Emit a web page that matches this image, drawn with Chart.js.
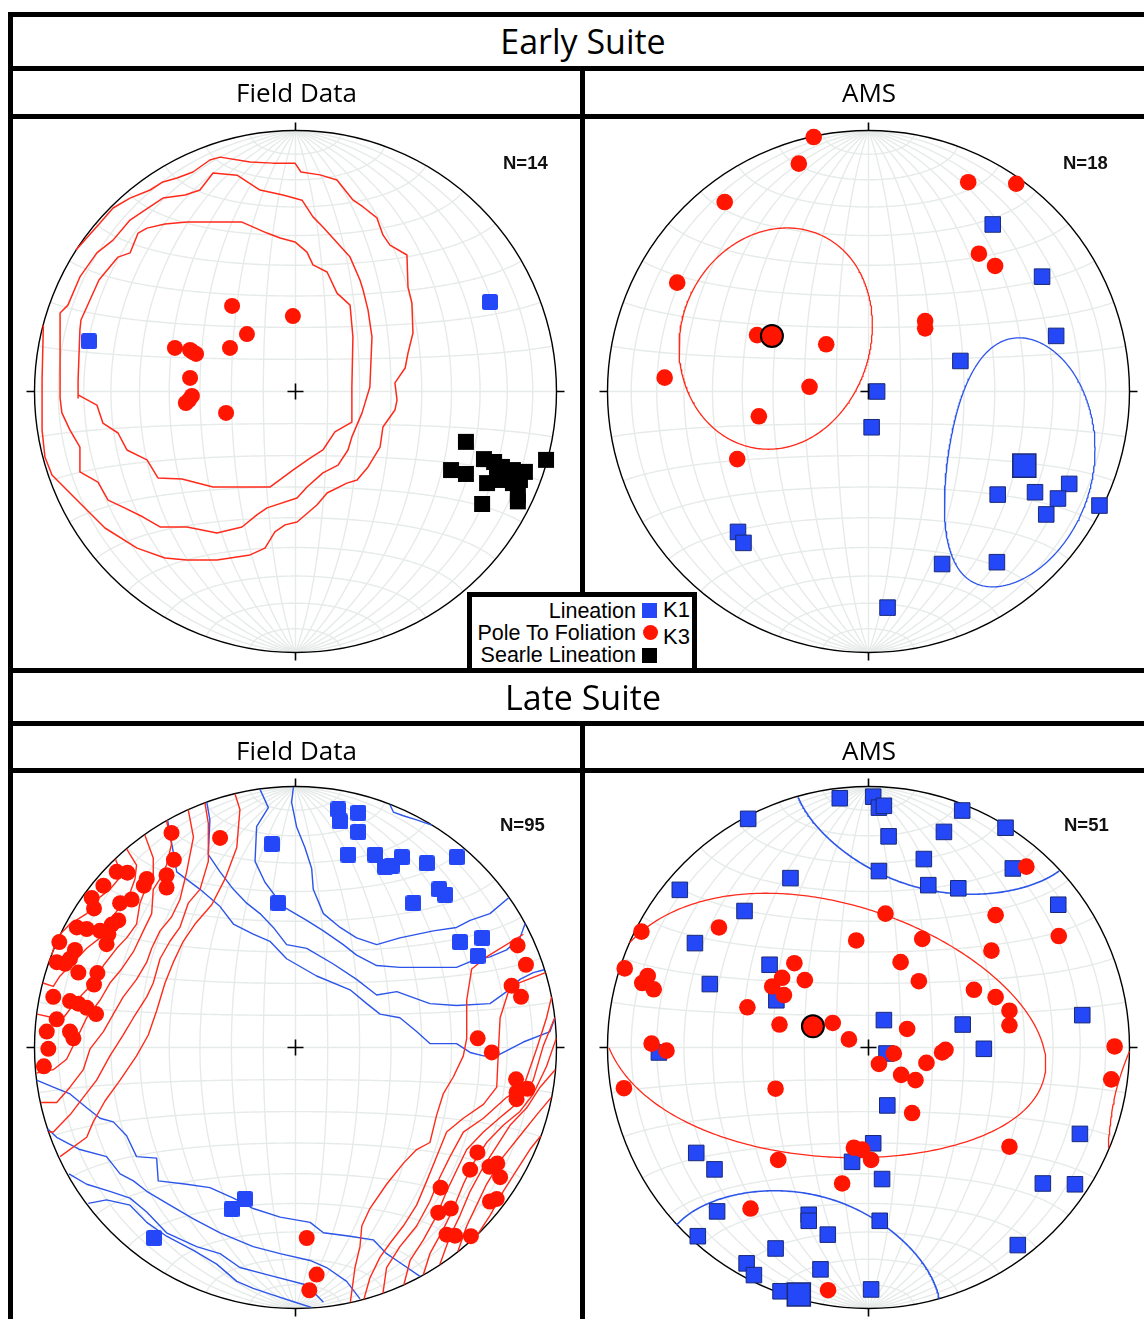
<!DOCTYPE html>
<html lang="en">
<head>
<meta charset="utf-8">
<title>Early and Late Suite fabrics</title>
<script src="https://cdn.jsdelivr.net/npm/chart.js@4.4.1/dist/chart.umd.min.js"></script>
<style>
  html, body { margin: 0; padding: 0; background: #fff; }
  body { position: relative; width: 1144px; height: 1319px; overflow: hidden; }
  .rule { position: absolute; background: #000; }
  .net { position: absolute; }
  .suite, .panel { position: absolute; text-align: center; color: #000; white-space: nowrap;
                   font-family: "Open Sans", "Noto Sans", sans-serif; font-weight: 500; }
  .suite { font-size: 34px; }
  .panel { font-size: 26px; }
  .count { position: absolute; font: bold 18.5px/1 "Liberation Sans", Arial, sans-serif; color: #111; }
  #legendBox { position: absolute; left: 467px; top: 592px; width: 220px; height: 71px;
               border: 5px solid #000; border-bottom: none; background: #fff; z-index: 5; }
  .lg { position: absolute; z-index: 6; font: 21.5px/22px "Liberation Sans", Arial, sans-serif;
        color: #000; white-space: nowrap; }
  .lgR { left: 470px; width: 166px; text-align: right; }
  .lgK { left: 663px; font-size: 22px; }
  .mk { position: absolute; z-index: 6; width: 15px; height: 15px; }
</style>
</head>
<body>
<canvas id="earlyField" class="net" width="561" height="561" style="left:15px;top:111px"></canvas>
<canvas id="earlyAms"   class="net" width="561" height="561" style="left:588px;top:111px"></canvas>
<canvas id="lateField"  class="net" width="561" height="561" style="left:15px;top:767px"></canvas>
<canvas id="lateAms"    class="net" width="561" height="561" style="left:588px;top:767px"></canvas>

<div class="rule" style="left:8px;top:12px;width:1136px;height:5px"></div>
<div class="rule" style="left:8px;top:12px;width:5px;height:1307px"></div>
<div class="rule" style="left:8px;top:66px;width:1136px;height:5px"></div>
<div class="rule" style="left:8px;top:114px;width:1136px;height:5px"></div>
<div class="rule" style="left:580px;top:66px;width:5px;height:526px"></div>
<div class="rule" style="left:8px;top:668px;width:1136px;height:5px"></div>
<div class="rule" style="left:8px;top:721px;width:1136px;height:5px"></div>
<div class="rule" style="left:8px;top:768px;width:1136px;height:5px"></div>
<div class="rule" style="left:580px;top:721px;width:5px;height:598px"></div>

<div id="t0" class="suite" style="left:13px;top:17px;width:1140px;height:49px;line-height:49px"></div>
<div id="p0" class="panel" style="left:13px;top:71px;width:567px;height:43px;line-height:43px"></div>
<div id="p1" class="panel" style="left:585px;top:71px;width:568px;height:43px;line-height:43px"></div>
<div id="t1" class="suite" style="left:13px;top:673px;width:1140px;height:48px;line-height:48px"></div>
<div id="p2" class="panel" style="left:13px;top:729px;width:567px;height:42px;line-height:42px"></div>
<div id="p3" class="panel" style="left:585px;top:729px;width:568px;height:42px;line-height:42px"></div>

<div id="n0" class="count" style="left:503px;top:153.5px"></div>
<div id="n1" class="count" style="left:1063px;top:153.5px"></div>
<div id="n2" class="count" style="left:500px;top:816px"></div>
<div id="n3" class="count" style="left:1064px;top:816px"></div>

<div id="legendBox"></div>
<div id="lg0" class="lg lgR" style="top:599.5px"></div>
<div id="lg1" class="lg lgR" style="top:621.5px"></div>
<div id="lg2" class="lg lgR" style="top:643.5px"></div>
<div id="lk0" class="lg lgK" style="top:599.4px"></div>
<div id="lk1" class="lg lgK" style="top:626.4px"></div>
<div class="mk" style="left:642px;top:603px;background:#2447f7"></div>
<div class="mk" style="left:642.5px;top:624.5px;background:#ff1500;border-radius:50%"></div>
<div class="mk" style="left:642px;top:648px;background:#000"></div>

<script>
// ---------------------------------------------------------------------------
// Headings and labels
// ---------------------------------------------------------------------------
const suiteTitles   = ['Early Suite', 'Late Suite'];
const panelTitles   = ['Field Data', 'AMS'];
const sampleCounts  = ['N=14', 'N=18', 'N=95', 'N=51'];
const legendLabels  = ['Lineation', 'Pole To Foliation', 'Searle Lineation'];
const legendAxes    = ['K1', 'K3'];

// ---------------------------------------------------------------------------
// Lower-hemisphere equal-area net positions (unit primitive, x = east, y = north)
// ---------------------------------------------------------------------------

// Early suite, field data
const earlyFieldPoles = [
  [-0.243,0.328],[-0.010,0.289],[-0.186,0.220],[-0.462,0.167],[-0.404,0.159],[-0.381,0.144],
  [-0.393,0.151],[-0.251,0.167],[-0.404,0.052],[-0.397,-0.017],[-0.420,-0.044],[-0.408,-0.033],
  [-0.266,-0.082]
];
const earlyFieldLineations = [[-0.791,0.193],[0.745,0.343]];
const earlyFieldSearle = [
  [0.653,-0.193],[0.596,-0.301],[0.653,-0.316],[0.722,-0.259],[0.761,-0.270],[0.791,-0.289],
  [0.833,-0.301],[0.879,-0.308],[0.734,-0.351],[0.784,-0.339],[0.833,-0.351],[0.860,-0.339],
  [0.852,-0.397],[0.715,-0.431],[0.960,-0.262],[0.772,-0.312],[0.803,-0.331],[0.852,-0.421],
  [0.820,-0.326]
];
const earlyFieldPoleContours = [
  [[-0.833,-0.025],[-0.833,0.044],[-0.826,0.236],[-0.822,0.274],[-0.753,0.427],[-0.680,0.515],
   [-0.634,0.531],[-0.603,0.607],[-0.569,0.626],[-0.500,0.642],[-0.416,0.649],[-0.205,0.649],
   [-0.109,0.607],[-0.059,0.588],[-0.002,0.573],[0.044,0.534],[0.067,0.485],[0.121,0.458],
   [0.159,0.377],[0.209,0.331],[0.220,0.209],[0.216,0.017],[0.216,-0.117],[0.151,-0.155],
   [0.105,-0.224],[0.056,-0.255],[-0.010,-0.301],[-0.098,-0.366],[-0.316,-0.366],[-0.435,-0.335],
   [-0.527,-0.331],[-0.569,-0.262],[-0.646,-0.224],[-0.680,-0.159],[-0.738,-0.121],[-0.761,-0.052],
   [-0.833,-0.013],[-0.833,-0.025]],
  [[-0.902,-0.025],[-0.902,0.301],[-0.872,0.331],[-0.826,0.439],[-0.761,0.531],[-0.699,0.580],
   [-0.634,0.657],[-0.577,0.695],[-0.508,0.741],[-0.423,0.753],[-0.366,0.772],[-0.316,0.837],
   [-0.224,0.829],[-0.136,0.772],[-0.048,0.753],[0.025,0.733],[0.067,0.669],[0.105,0.630],
   [0.209,0.515],[0.247,0.427],[0.259,0.389],[0.278,0.312],[0.293,0.209],[0.285,0.017],
   [0.255,-0.082],[0.216,-0.174],[0.201,-0.224],[0.163,-0.282],[0.105,-0.312],[0.044,-0.366],
   [0.006,-0.408],[-0.109,-0.446],[-0.148,-0.473],[-0.205,-0.519],[-0.301,-0.542],[-0.416,-0.519],
   [-0.519,-0.519],[-0.584,-0.481],[-0.661,-0.443],[-0.718,-0.416],[-0.757,-0.347],[-0.826,-0.308],
   [-0.826,-0.213],[-0.864,-0.148],[-0.895,-0.082],[-0.902,-0.025]],
  [[-0.841,0.542],[-0.749,0.646],[-0.699,0.703],[-0.634,0.741],[-0.557,0.772],[-0.508,0.803],
   [-0.454,0.818],[-0.393,0.841],[-0.328,0.887],[-0.289,0.898],[-0.174,0.879],[-0.086,0.875],
   [-0.002,0.875],[0.021,0.841],[0.094,0.830],[0.159,0.810],[0.220,0.734],[0.259,0.707],
   [0.312,0.665],[0.335,0.600],[0.362,0.561],[0.427,0.523],[0.431,0.400],[0.446,0.339],
   [0.450,0.224],[0.431,0.147],[0.420,0.090],[0.381,0.033],[0.389,-0.033],[0.381,-0.071],
   [0.335,-0.136],[0.324,-0.213],[0.278,-0.289],[0.236,-0.339],[0.197,-0.351],[0.121,-0.389],
   [0.082,-0.435],[0.006,-0.500],[-0.040,-0.511],[-0.079,-0.538],[-0.117,-0.600],[-0.174,-0.626],
   [-0.301,-0.646],[-0.416,-0.646],[-0.500,-0.638],[-0.607,-0.600],[-0.730,-0.523],[-0.826,-0.427],
   [-0.933,-0.320],[-0.960,-0.251],[-0.971,-0.148],[-0.971,0.044],[-0.966,0.255]]
];

// Early suite, AMS
const earlyAmsK1 = [
  [0.476,0.640],[0.665,0.440],[0.719,0.213],[0.352,0.117],[0.033,0.000],[0.012,-0.137],
  [0.495,-0.395],[0.638,-0.386],[0.769,-0.354],[0.726,-0.410],[0.681,-0.471],[0.885,-0.437],
  [-0.500,-0.538],[-0.479,-0.580],[0.282,-0.661],[0.492,-0.654],[0.073,-0.828]
];
const earlyAmsK3 = [
  [-0.210,0.975],[-0.267,0.873],[-0.551,0.726],[0.382,0.802],[0.566,0.796],[-0.733,0.417],
  [0.423,0.528],[0.485,0.481],[0.217,0.270],[0.217,0.242],[-0.427,0.216],[-0.162,0.181],
  [-0.781,0.053],[-0.226,0.018],[-0.420,-0.095],[-0.503,-0.259]
];
const earlyAmsK1Mean = [0.597,-0.284];
const earlyAmsK3Mean = [-0.370,0.213];
// confidence cones: semi-angle along strike, semi-angle across, twist (degrees)
const earlyAmsK1Cone = [36.5, 25, 28];
const earlyAmsK3Cone = [34, 31, 25];

// Late suite, field data
const lateFieldPoles = [
  [-0.475,0.822],[-0.289,0.803],[-0.466,0.719],[-0.494,0.660],[-0.494,0.613],[-0.581,0.620],
  [-0.570,0.646],[-0.685,0.673],[-0.644,0.670],[-0.736,0.620],[-0.781,0.573],[-0.772,0.533],
  [-0.672,0.553],[-0.628,0.567],[-0.679,0.487],[-0.704,0.471],[-0.838,0.460],[-0.800,0.454],
  [-0.749,0.447],[-0.717,0.434],[-0.724,0.396],[-0.905,0.404],[-0.845,0.374],[-0.864,0.340],
  [-0.915,0.327],[-0.883,0.321],[-0.832,0.287],[-0.759,0.285],[-0.772,0.241],[-0.928,0.194],
  [-0.864,0.178],[-0.832,0.168],[-0.800,0.152],[-0.764,0.128],[-0.915,0.108],[-0.953,0.061],
  [-0.864,0.061],[-0.851,0.035],[-0.947,-0.005],[-0.964,-0.072],
  [0.851,0.391],[0.883,0.317],[0.828,0.237],[0.864,0.194],[0.698,0.035],[0.752,-0.019],
  [0.845,-0.122],[0.847,-0.172],[0.888,-0.158],[0.847,-0.198],[0.697,-0.402],[0.669,-0.468],
  [0.743,-0.457],[0.773,-0.444],[0.784,-0.497],[0.745,-0.590],[0.771,-0.580],[0.556,-0.537],
  [0.547,-0.633],[0.595,-0.617],[0.579,-0.717],[0.611,-0.721],[0.672,-0.723],[0.043,-0.730],
  [0.081,-0.870],[0.053,-0.930]
];
const lateFieldLineations = [
  [0.164,0.912],[0.171,0.866],[0.241,0.899],[0.241,0.826],[0.202,0.739],[0.305,0.739],
  [0.343,0.693],[0.369,0.697],[0.407,0.729],[0.503,0.706],[0.618,0.729],[0.551,0.606],
  [0.573,0.586],[0.452,0.553],[0.630,0.404],[0.716,0.420],[0.698,0.351],[-0.091,0.779],
  [-0.066,0.553],[-0.194,-0.580],[-0.245,-0.620],[-0.542,-0.730]
];
const lateFieldPoleContours = [
  [[-0.232,0.972],[-0.213,0.912],[-0.225,0.766],[-0.270,0.646],[-0.321,0.547],[-0.385,0.473],
   [-0.430,0.407],[-0.468,0.327],[-0.500,0.247],[-0.532,0.141],[-0.564,0.048],[-0.609,-0.032],
   [-0.672,-0.125],[-0.730,-0.205],[-0.775,-0.285],[-0.800,-0.344],[-0.902,-0.418]],
  [[-0.347,0.937],[-0.334,0.859],[-0.334,0.713],[-0.366,0.606],[-0.411,0.553],[-0.443,0.460],
   [-0.481,0.407],[-0.519,0.340],[-0.545,0.247],[-0.570,0.194],[-0.621,0.114],[-0.660,0.048],
   [-0.711,-0.032],[-0.762,-0.125],[-0.813,-0.191],[-0.864,-0.258],[-0.928,-0.324],[-0.946,-0.324]],
  [[-0.411,0.911],[-0.391,0.806],[-0.417,0.673],[-0.443,0.566],[-0.475,0.500],[-0.519,0.447],
   [-0.551,0.380],[-0.570,0.327],[-0.609,0.261],[-0.660,0.194],[-0.698,0.128],[-0.736,0.061],
   [-0.787,-0.005],[-0.813,-0.085],[-0.864,-0.152],[-0.915,-0.211],[-0.975,-0.211]],
  [[-0.494,0.869],[-0.475,0.779],[-0.494,0.699],[-0.519,0.646],[-0.545,0.606],[-0.551,0.513],
   [-0.583,0.447],[-0.621,0.367],[-0.666,0.301],[-0.711,0.247],[-0.749,0.181],[-0.800,0.114],
   [-0.838,0.035],[-0.877,-0.045],[-0.928,-0.085],[-0.993,-0.098]],
  [[-0.577,0.813],[-0.545,0.726],[-0.545,0.660],[-0.570,0.620],[-0.596,0.553],[-0.609,0.473],
   [-0.647,0.420],[-0.685,0.380],[-0.736,0.314],[-0.775,0.247],[-0.838,0.181],[-0.889,0.114],
   [-0.928,0.114],[-0.990,0.128]],
  [[-0.647,0.761],[-0.609,0.699],[-0.615,0.646],[-0.634,0.593],[-0.672,0.540],[-0.711,0.487],
   [-0.749,0.420],[-0.800,0.380],[-0.851,0.327],[-0.902,0.274],[-0.928,0.234],[-0.968,0.247]],
  [[-0.690,0.722],[-0.666,0.660],[-0.711,0.606],[-0.762,0.566],[-0.800,0.513],[-0.864,0.473],
   [-0.915,0.420],[-0.934,0.354]],
  [[0.210,-0.977],[0.228,-0.843],[0.247,-0.763],[0.254,-0.684],[0.285,-0.617],[0.349,-0.524],
   [0.413,-0.444],[0.464,-0.391],[0.515,-0.364],[0.541,-0.258],[0.566,-0.178],[0.605,-0.112],
   [0.643,-0.032],[0.656,0.035],[0.656,0.181],[0.675,0.301],[0.732,0.347],[0.873,0.434]],
  [[0.262,-0.965],[0.285,-0.883],[0.324,-0.803],[0.362,-0.750],[0.413,-0.684],[0.464,-0.604],
   [0.503,-0.511],[0.541,-0.418],[0.579,-0.324],[0.643,-0.271],[0.720,-0.218],[0.771,-0.152],
   [0.777,-0.019],[0.784,0.114],[0.822,0.234],[0.958,0.287]],
  [[0.335,-0.942],[0.349,-0.843],[0.400,-0.763],[0.464,-0.684],[0.515,-0.590],[0.553,-0.497],
   [0.592,-0.418],[0.643,-0.324],[0.720,-0.271],[0.809,-0.191],[0.873,-0.152],[0.924,-0.005],
   [0.962,0.114],[0.981,0.194]],
  [[0.415,-0.910],[0.439,-0.816],[0.490,-0.737],[0.541,-0.644],[0.579,-0.551],[0.617,-0.471],
   [0.656,-0.391],[0.720,-0.324],[0.796,-0.258],[0.860,-0.205],[0.911,-0.125],[0.950,0.008],
   [0.993,0.114]],
  [[0.490,-0.870],[0.515,-0.790],[0.566,-0.697],[0.605,-0.617],[0.643,-0.524],[0.681,-0.444],
   [0.732,-0.364],[0.796,-0.298],[0.860,-0.245],[0.911,-0.178],[0.962,-0.072],[0.999,0.035]],
  [[0.553,-0.831],[0.592,-0.723],[0.630,-0.644],[0.669,-0.551],[0.720,-0.457],[0.771,-0.378],
   [0.822,-0.298],[0.886,-0.231],[0.937,-0.152],[0.995,-0.085]],
  [[0.622,-0.782],[0.656,-0.684],[0.694,-0.604],[0.732,-0.524],[0.796,-0.418],[0.860,-0.338],
   [0.924,-0.258],[0.980,-0.191]],
  [[0.700,-0.713],[0.745,-0.644],[0.796,-0.551],[0.847,-0.471],[0.898,-0.391],[0.940,-0.338]]
];
const lateFieldLineationContours = [
  [[0.362,0.930],[0.375,0.902],[0.413,0.888],[0.464,0.872],[0.522,0.852]],
  [[-0.008,0.998],[-0.015,0.939],[0.004,0.846],[0.036,0.766],[0.062,0.686],[0.068,0.606],
   [0.107,0.513],[0.171,0.460],[0.234,0.420],[0.311,0.394],[0.400,0.420],[0.528,0.447],
   [0.617,0.460],[0.669,0.487],[0.745,0.513],[0.818,0.575]],
  [[-0.136,0.989],[-0.104,0.919],[-0.149,0.846],[-0.155,0.713],[-0.117,0.633],[-0.047,0.540],
   [0.043,0.487],[0.107,0.447],[0.183,0.394],[0.234,0.354],[0.311,0.314],[0.400,0.307],
   [0.515,0.307],[0.617,0.307],[0.681,0.334],[0.745,0.347],[0.809,0.374],[0.860,0.420],
   [0.880,0.475]],
  [[-0.340,0.940],[-0.328,0.872],[-0.334,0.739],[-0.289,0.673],[-0.238,0.606],[-0.187,0.553],
   [-0.136,0.513],[-0.085,0.460],[-0.034,0.394],[0.043,0.380],[0.145,0.320],[0.234,0.261],
   [0.311,0.201],[0.388,0.214],[0.515,0.168],[0.617,0.161],[0.745,0.168],[0.809,0.214],
   [0.860,0.261],[0.911,0.287],[0.953,0.298]],
  [[-0.490,0.871],[-0.455,0.673],[-0.366,0.606],[-0.289,0.540],[-0.238,0.473],[-0.162,0.434],
   [-0.098,0.407],[-0.034,0.340],[0.081,0.274],[0.209,0.221],[0.273,0.168],[0.324,0.128],
   [0.400,0.114],[0.464,0.061],[0.515,0.015],[0.617,0.015],[0.669,-0.019],[0.720,-0.032],
   [0.771,-0.032],[0.873,0.021],[0.975,0.061],[0.993,0.110]],
  [[-0.992,-0.125],[-0.928,-0.152],[-0.864,-0.178],[-0.800,-0.231],[-0.749,-0.271],[-0.698,-0.285],
   [-0.647,-0.338],[-0.609,-0.418],[-0.532,-0.424],[-0.526,-0.511],[-0.417,-0.524],[-0.328,-0.537],
   [-0.238,-0.577],[-0.162,-0.617],[-0.059,-0.650],[0.056,-0.670],[0.107,-0.710],[0.209,-0.723],
   [0.298,-0.737],[0.349,-0.790],[0.388,-0.816],[0.477,-0.877]],
  [[-0.950,-0.311],[-0.915,-0.344],[-0.826,-0.391],[-0.724,-0.418],[-0.672,-0.484],[-0.621,-0.511],
   [-0.570,-0.551],[-0.481,-0.604],[-0.391,-0.657],[-0.289,-0.710],[-0.162,-0.763],[-0.059,-0.790],
   [0.056,-0.816],[0.119,-0.843],[0.196,-0.896],[0.247,-0.963]],
  [[-0.868,-0.484],[-0.800,-0.524],[-0.711,-0.551],[-0.634,-0.577],[-0.570,-0.630],[-0.494,-0.710],
   [-0.379,-0.763],[-0.289,-0.790],[-0.213,-0.843],[-0.110,-0.870],[0.043,-0.910],[0.107,-0.976]],
  [[-0.794,-0.597],[-0.724,-0.584],[-0.634,-0.604],[-0.570,-0.670],[-0.494,-0.723],[-0.391,-0.777],
   [-0.302,-0.830],[-0.225,-0.896],[-0.162,-0.923],[-0.085,-0.949],[-0.001,-0.976],[0.060,-0.996]]
];

// Late suite, AMS
const lateAmsK1 = [
  [-0.110,0.955],[-0.461,0.876],[-0.299,0.649],[-0.723,0.604],[-0.475,0.523],[-0.665,0.400],
  [-0.379,0.317],[-0.608,0.243],[-0.353,0.181],[-0.803,-0.019],[-0.660,-0.404],[-0.590,-0.467],
  [-0.063,-0.438],[-0.580,-0.628],[-0.229,-0.641],[-0.229,-0.664],[-0.156,-0.717],[-0.654,-0.723],
  [-0.356,-0.770],[-0.467,-0.827],[-0.439,-0.872],[-0.184,-0.850],[-0.337,-0.934],
  [0.018,0.961],[0.040,0.919],[0.059,0.926],[0.077,0.809],[0.359,0.908],[0.289,0.826],
  [0.525,0.842],[0.212,0.722],[0.040,0.676],[0.229,0.622],[0.344,0.610],[0.553,0.686],
  [0.727,0.547],[0.819,0.124],[0.059,0.105],[0.361,0.088],[0.442,-0.005],[0.069,-0.023],
  [0.072,-0.222],[0.810,-0.331],[0.018,-0.367],[0.052,-0.504],[0.668,-0.521],[0.791,-0.524],
  [0.043,-0.664],[0.572,-0.757],[0.010,-0.927]
];
const lateAmsK3 = [
  [-0.870,0.444],[-0.573,0.460],[-0.047,0.410],[-0.934,0.303],[-0.846,0.274],[-0.867,0.247],
  [-0.823,0.223],[-0.284,0.323],[-0.331,0.267],[-0.244,0.258],[-0.369,0.234],[-0.324,0.201],
  [-0.464,0.154],[-0.341,0.088],[-0.137,0.094],[-0.075,0.031],[-0.831,0.015],[-0.774,-0.012],
  [-0.937,-0.156],[-0.356,-0.158],[-0.346,-0.431],[-0.101,-0.521],[-0.452,-0.617],[-0.155,-0.930],
  [-0.056,-0.384],[-0.024,-0.391],
  [0.605,0.693],[0.065,0.513],[0.487,0.507],[0.729,0.427],[0.206,0.416],[0.471,0.371],
  [0.123,0.327],[0.193,0.254],[0.404,0.221],[0.487,0.193],[0.540,0.141],[0.540,0.085],
  [0.148,0.071],[0.295,-0.009],[0.282,-0.019],[0.097,-0.023],[0.040,-0.063],[0.222,-0.059],
  [0.125,-0.105],[0.180,-0.125],[0.167,-0.251],[0.943,0.004],[0.930,-0.122],[0.540,-0.380],
  [0.010,-0.431]
];
const lateAmsK1Mean = [-0.267,-0.946];
const lateAmsK3Mean = [-0.213,0.081];
const lateAmsK1Cone = [31.5, 38, 0];
const lateAmsK3Cone = [40, 76, 10];

// ---------------------------------------------------------------------------
// Styling
// ---------------------------------------------------------------------------
const RED = '#ff1500', BLUE = '#2447f7', NAVY = '#1a2a78';
const RED_LINE = '#ff2a1a', BLUE_LINE = '#2c55ea';
const LIM = 280.5 / 261;          // axis half-range so that the primitive spans 261 px
const D2R = Math.PI / 180;

// small rounded square used for field lineations
function roundedSquare(size, radius, color) {
  const c = document.createElement('canvas');
  c.width = c.height = size;
  const g = c.getContext('2d');
  g.fillStyle = color;
  g.beginPath();
  g.roundRect(0, 0, size, size, radius);
  g.fill();
  return c;
}
const lineationMark = roundedSquare(16, 2.5, BLUE);

// ---------------------------------------------------------------------------
// Equal-area geometry
// ---------------------------------------------------------------------------
// transverse Schmidt-net grid node: lam about the N-S axis, phi from the E-W line
function gridPoint(lam, phi) {
  const l = lam * D2R, p = phi * D2R;
  const k = 1 / Math.sqrt(1 + Math.cos(p) * Math.cos(l));
  return [k * Math.cos(p) * Math.sin(l), k * Math.sin(p)];
}
// net position -> unit vector (east, north, down)
function netToVec([x, y]) {
  const r2 = x * x + y * y, s = Math.sqrt(2 - r2);
  return [x * s, y * s, 1 - r2];
}
// unit vector -> net position, upward vectors replaced by their antipode
function vecToNet([e, n, d]) {
  if (d < 0) { e = -e; n = -n; d = -d; }
  const h = Math.hypot(e, n);
  if (h < 1e-9) return [0, 0];
  const r = Math.sqrt(Math.max(0, 1 - d));
  return [r * e / h, r * n / h];
}
// outline of an elliptical confidence cone about a mean axis, split where it crosses the primitive
function coneOutline(mean, [aDeg, bDeg, twistDeg]) {
  const m = netToVec(mean);
  const hl = Math.hypot(m[0], m[1]);
  const u = [m[1] / hl, -m[0] / hl, 0];
  const v = [m[1] * u[2] - m[2] * u[1], m[2] * u[0] - m[0] * u[2], m[0] * u[1] - m[1] * u[0]];
  const w = twistDeg * D2R;
  const u2 = u.map((c, i) => Math.cos(w) * c + Math.sin(w) * v[i]);
  const v2 = u.map((c, i) => -Math.sin(w) * c + Math.cos(w) * v[i]);
  const a = aDeg * D2R, b = bDeg * D2R;
  const segs = [];
  let cur = null, prevUp = null;
  for (let t = 0; t <= 360; t += 1) {
    const c = Math.cos(t * D2R), s = Math.sin(t * D2R);
    const psi = a * b / Math.hypot(b * c, a * s);
    const p = m.map((mi, i) => Math.cos(psi) * mi + Math.sin(psi) * (c * u2[i] + s * v2[i]));
    const up = p[2] < 0;
    if (up !== prevUp) { cur = []; segs.push({ up, pts: cur }); prevUp = up; }
    cur.push(vecToNet(p));
  }
  if (segs.length > 1 && segs[0].up === segs[segs.length - 1].up) {
    const last = segs.pop();
    segs[0].pts = last.pts.concat(segs[0].pts);
  }
  return segs.map(s => s.pts);
}

// ---------------------------------------------------------------------------
// Net frame: grid, primitive, cardinal ticks and centre cross
// ---------------------------------------------------------------------------
const netFrame = {
  id: 'netFrame',
  beforeDatasetsDraw(chart) {
    const { ctx } = chart, sx = chart.scales.x, sy = chart.scales.y;
    const px = v => sx.getPixelForValue(v), py = v => sy.getPixelForValue(v);
    const cx = px(0), cy = py(0), r = px(1) - cx;
    ctx.save();
    ctx.lineWidth = 1.4;
    ctx.strokeStyle = '#e6ebe9';
    const trace = fn => {
      ctx.beginPath();
      for (let s = -90; s <= 90; s += 1) {
        const [gx, gy] = fn(s);
        if (s === -90) ctx.moveTo(px(gx), py(gy)); else ctx.lineTo(px(gx), py(gy));
      }
      ctx.stroke();
    };
    for (let g = -80; g <= 80; g += 10) {
      trace(s => gridPoint(g, s));
      trace(s => gridPoint(s, g));
    }
    ctx.strokeStyle = '#000';
    ctx.lineWidth = 1.4;
    ctx.beginPath();
    ctx.arc(cx, cy, r, 0, Math.PI * 2);
    ctx.stroke();
    ctx.lineWidth = 1.6;
    ctx.beginPath();
    const tk = 8, cr = 8;
    ctx.moveTo(cx, cy - r); ctx.lineTo(cx, cy - r - tk);
    ctx.moveTo(cx, cy + r); ctx.lineTo(cx, cy + r + tk);
    ctx.moveTo(cx - r, cy); ctx.lineTo(cx - r - tk, cy);
    ctx.moveTo(cx + r, cy); ctx.lineTo(cx + r + tk, cy);
    ctx.moveTo(cx - cr, cy); ctx.lineTo(cx + cr, cy);
    ctx.moveTo(cx, cy - cr); ctx.lineTo(cx, cy + cr);
    ctx.stroke();
    ctx.restore();
  }
};

// ---------------------------------------------------------------------------
// Dataset helpers
// ---------------------------------------------------------------------------
const toXY = list => list.map(([x, y]) => ({ x, y }));
function pathSet(path, color, width) {
  return { data: toXY(path), showLine: true, borderColor: color, borderWidth: width,
           pointRadius: 0, tension: 0, borderJoinStyle: 'round', order: 3 };
}
function markSet(list, style, order) {
  return Object.assign({ data: toXY(list), showLine: false, order: order ?? 1 }, style);
}
const redDot   = { pointStyle: 'circle', pointRadius: 8, pointBackgroundColor: RED, pointBorderWidth: 0 };
const blueTile = { pointStyle: lineationMark, pointBackgroundColor: BLUE };
const blackTile = { pointStyle: 'rect', pointRadius: 11.3, pointBackgroundColor: '#000', pointBorderWidth: 0 };
const amsK1 = { pointStyle: 'rect', pointRadius: 11, pointBackgroundColor: BLUE, pointBorderColor: NAVY, pointBorderWidth: 1 };
const amsK3 = { pointStyle: 'circle', pointRadius: 8.3, pointBackgroundColor: RED, pointBorderWidth: 0 };
const amsK1Mean = { pointStyle: 'rect', pointRadius: 16.3, pointBackgroundColor: BLUE, pointBorderColor: NAVY, pointBorderWidth: 1.5 };
const amsK3Mean = { pointStyle: 'circle', pointRadius: 11, pointBackgroundColor: RED, pointBorderColor: '#000', pointBorderWidth: 2 };

function net(id, datasets) {
  return new Chart(document.getElementById(id), {
    type: 'scatter',
    data: { datasets },
    options: {
      responsive: false, animation: false, events: [],
      layout: { padding: 0, autoPadding: false },
      plugins: { legend: { display: false }, tooltip: { enabled: false }, title: { display: false } },
      scales: {
        x: { type: 'linear', display: false, min: -LIM, max: LIM },
        y: { type: 'linear', display: false, min: -LIM, max: LIM }
      }
    },
    plugins: [netFrame]
  });
}

// ---------------------------------------------------------------------------
// Text
// ---------------------------------------------------------------------------
document.getElementById('t0').textContent = suiteTitles[0];
document.getElementById('t1').textContent = suiteTitles[1];
['p0', 'p1', 'p2', 'p3'].forEach((id, i) => document.getElementById(id).textContent = panelTitles[i % 2]);
sampleCounts.forEach((s, i) => document.getElementById('n' + i).textContent = s);
legendLabels.forEach((s, i) => document.getElementById('lg' + i).textContent = s);
legendAxes.forEach((s, i) => document.getElementById('lk' + i).textContent = s);

// ---------------------------------------------------------------------------
// Nets
// ---------------------------------------------------------------------------
net('earlyField', [
  markSet(earlyFieldPoles, redDot),
  markSet(earlyFieldLineations, blueTile),
  markSet(earlyFieldSearle, blackTile),
  ...earlyFieldPoleContours.map(p => pathSet(p, RED_LINE, 1.5))
]);

net('earlyAms', [
  markSet([earlyAmsK3Mean], amsK3Mean, 0),
  markSet([earlyAmsK1Mean], amsK1Mean, 0),
  markSet(earlyAmsK3, amsK3),
  markSet(earlyAmsK1, amsK1),
  ...coneOutline(earlyAmsK3Mean, earlyAmsK3Cone).map(p => pathSet(p, RED_LINE, 1.3)),
  ...coneOutline(earlyAmsK1Mean, earlyAmsK1Cone).map(p => pathSet(p, BLUE_LINE, 1.3))
]);

net('lateField', [
  markSet(lateFieldPoles, redDot),
  markSet(lateFieldLineations, blueTile),
  ...lateFieldPoleContours.map(p => pathSet(p, RED_LINE, 1.4)),
  ...lateFieldLineationContours.map(p => pathSet(p, BLUE_LINE, 1.4))
]);

net('lateAms', [
  markSet([lateAmsK3Mean], amsK3Mean, 0),
  markSet([lateAmsK1Mean], amsK1Mean, 0),
  markSet(lateAmsK3, amsK3),
  markSet(lateAmsK1, amsK1),
  ...coneOutline(lateAmsK3Mean, lateAmsK3Cone).map(p => pathSet(p, RED_LINE, 1.3)),
  ...coneOutline(lateAmsK1Mean, lateAmsK1Cone).map(p => pathSet(p, BLUE_LINE, 1.6))
]);
</script>
</body>
</html>
